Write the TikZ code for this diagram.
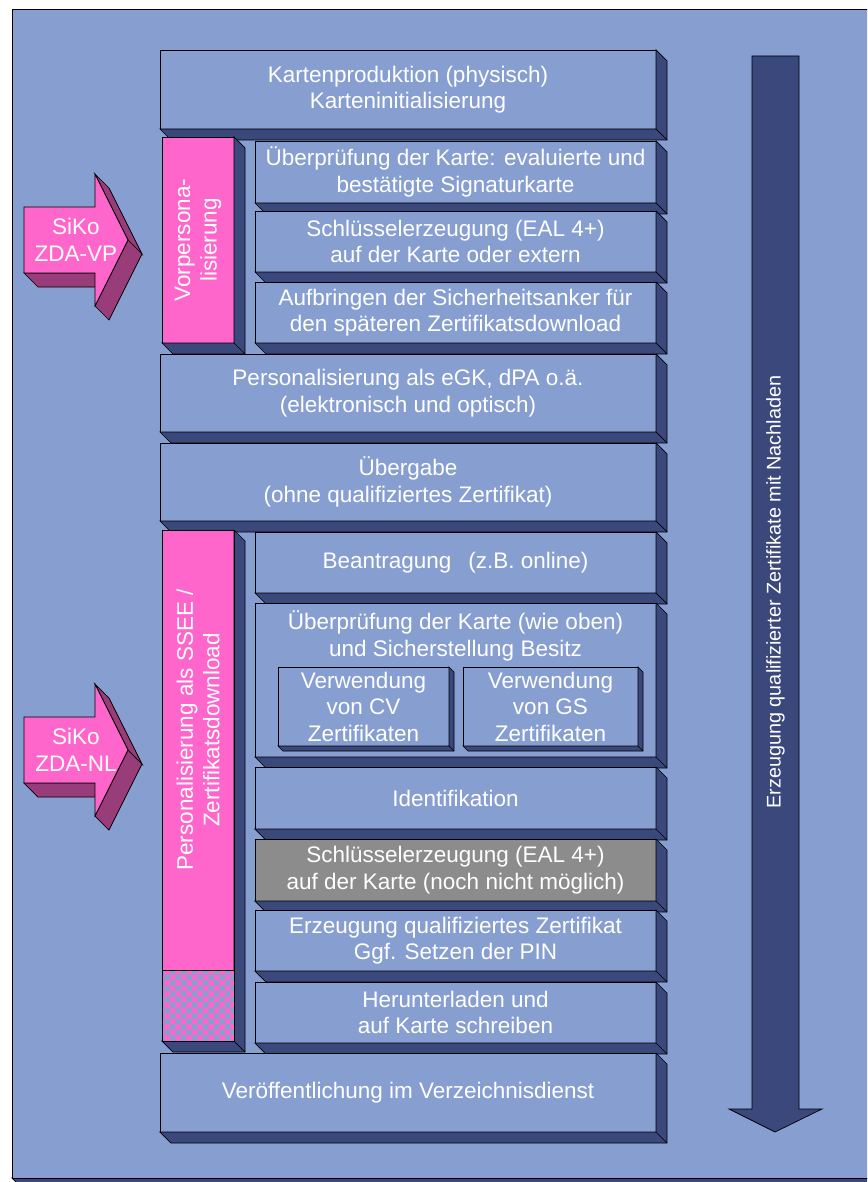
\documentclass[tikz,border=0pt]{standalone}
\usepackage{fontspec}
\setmainfont{Liberation Sans}
\usetikzlibrary{patterns}

\definecolor{bgblue}{RGB}{135,158,208}
\definecolor{sideblue}{RGB}{58,72,124}
\definecolor{rosa}{RGB}{255,102,204}
\definecolor{rosadark}{RGB}{153,61,122}
\definecolor{steingrau}{RGB}{140,140,140}

\newcommand\boxfont{\fontsize{22.5}{26.5}\selectfont}
\newcommand\arrowfont{\fontsize{19.8}{23}\selectfont}

\tikzset{
  edgeline/.style={draw=black, line width=0.7pt, line join=miter},
  face/.style={edgeline, fill=bgblue, text=white, align=center,
               inner sep=0pt, outer sep=0pt, font=\boxfont},
  grayface/.style={face, fill=steingrau},
  pinkface/.style={face, fill=rosa},
  side/.style={edgeline, fill=sideblue},
  label/.style={text=white, align=center, inner sep=0pt, font=\boxfont},
  sikoface/.style={edgeline, fill=rosa},
  sikoside/.style={edgeline, fill=rosadark},
}

% slab: front face as a named node plus right and bottom depth faces
% #1 name, #2 x1, #3 y1, #4 x2, #5 y2, #6 depth, #7 face style, #8 text
\newcommand\dslab[8]{%
  \node[#7, minimum width={#4-#2}, minimum height={#5-#3}] (#1)
    at ({(#2+#4)/2},{(#3+#5)/2}) {#8};
  \filldraw[side] (#1.north east) -- ++(#6,#6)
    -- ([shift={(#6,#6)}]#1.south east)
    -- ([shift={(#6,#6)}]#1.south west)
    -- (#1.south west) -- (#1.south east) -- cycle;
  \draw[edgeline] (#1.south east) -- ++(#6,#6);
}

% 3D block arrow pointing right, shifted vertically by #1
\newcommand\sikoarrow[3]{%
  \begin{scope}[yshift={-(#1)*1pt}]
    \filldraw[sikoside] (24,273) -- (38,287) -- (109,287) -- (95,273) -- cycle;
    \filldraw[sikoside] (95,174) -- (109,188) -- (142,254) -- (128,240) -- cycle;
    \filldraw[sikoside] (128,240) -- (142,254) -- (109,320) -- (95,306) -- cycle;
    \filldraw[sikoface] (24,207) -- (95,207) -- (95,174) -- (128,240)
      -- (95,306) -- (95,273) -- (24,273) -- cycle;
    \node[label] (#2) at (76,240) {#3};
  \end{scope}
}

\begin{document}
\begin{tikzpicture}[x=1pt, y=-1pt]
  \useasboundingbox (0,0) rectangle (867,1182);
  \clip (0,0) rectangle (867,1182);
  \fill[white] (0,0) rectangle (867,1182);

  % outer frame
  \filldraw[side] (12,1178) -- (890,1178) -- (902,1190) -- (24,1190) -- cycle;
  \filldraw[edgeline, fill=bgblue] (12,9) rectangle (890,1178);

  % long arrow on the right
  \filldraw[edgeline, fill=sideblue] (752,56) -- (799,56) -- (799,1109)
    -- (822,1109) -- (775,1132) -- (729,1109) -- (752,1109) -- cycle;
  \coordinate (pfeilmitte) at (775.5,592);
  \node[label, font=\arrowfont, rotate=90] (pfeiltext) at (pfeilmitte)
    {Erzeugung qualifizierter Zertifikate mit Nachladen};

  % SiKo arrows
  \sikoarrow{0}{sikovp}{SiKo\\ZDA-VP}
  \sikoarrow{510}{sikonl}{SiKo\\ZDA-NL}

  % stack of process steps
  \dslab{prod}{160}{50}{656}{129}{11}{face}{Kartenproduktion (physisch)\\Karteninitialisierung}
  \dslab{vorpers}{162}{137}{234}{343}{11}{pinkface}{}
  \node[label, rotate=90] (vorperstext) at (vorpers.center) {Vorpersona-\\lisierung};
  \dslab{pruef}{255}{141}{656}{203}{11}{face}{Überprüfung der Karte: evaluierte und\\bestätigte Signaturkarte}
  \dslab{schl}{255}{211}{656}{272}{11}{face}{Schlüsselerzeugung (EAL 4+)\\auf der Karte oder extern}
  \dslab{anker}{255}{282}{656}{343}{11}{face}{Aufbringen der Sicherheitsanker für\\den späteren Zertifikatsdownload}
  \dslab{pers}{160}{354}{656}{432}{11}{face}{Personalisierung als eGK, dPA o.ä.\\(elektronisch und optisch)}
  \dslab{uebergabe}{160}{443}{656}{521}{11}{face}{Übergabe\\(ohne qualifiziertes Zertifikat)}

  \dslab{ssee}{162}{530}{234}{1041}{11}{pinkface}{}
  \fill[bgblue] (162,970) rectangle (234,1041);
  \fill[pattern=checkerboard, pattern color=rosa] (162,970) rectangle (234,1041);
  \draw[edgeline] (ssee.north west) rectangle (ssee.south east);
  \draw[edgeline] (162,970) -- (234,970);
  \node[label, rotate=90] (sseetext) at (198,730) {Personalisierung als SSEE /\\Zertifikatsdownload};

  \dslab{antrag}{255}{532}{656}{593}{11}{face}{Beantragung\hspace{0.75em}(z.B. online)}
  \dslab{pruefzwei}{255}{603}{656}{757}{11}{face}{}
  \node[label] (pruefzweitext) at (455.5,636) {Überprüfung der Karte (wie oben)\\und Sicherstellung Besitz};
  \dslab{cv}{278}{667}{449}{746}{5}{face}{Verwendung\\von CV\\Zertifikaten}
  \dslab{gs}{463}{667}{638}{746}{5}{face}{Verwendung\\von GS\\Zertifikaten}
  \dslab{ident}{255}{767}{656}{829}{11}{face}{Identifikation}
  \dslab{schlzwei}{255}{839}{656}{901}{11}{grayface}{Schlüsselerzeugung (EAL 4+)\\auf der Karte (noch nicht möglich)}
  \dslab{zert}{255}{910}{656}{971}{11}{face}{Erzeugung qualifiziertes Zertifikat\\Ggf. Setzen der PIN}
  \dslab{laden}{255}{982}{656}{1043}{11}{face}{Herunterladen und\\auf Karte schreiben}
  \dslab{verz}{160}{1053}{656}{1132}{11}{face}{Veröffentlichung im Verzeichnisdienst}
\end{tikzpicture}
\end{document}
